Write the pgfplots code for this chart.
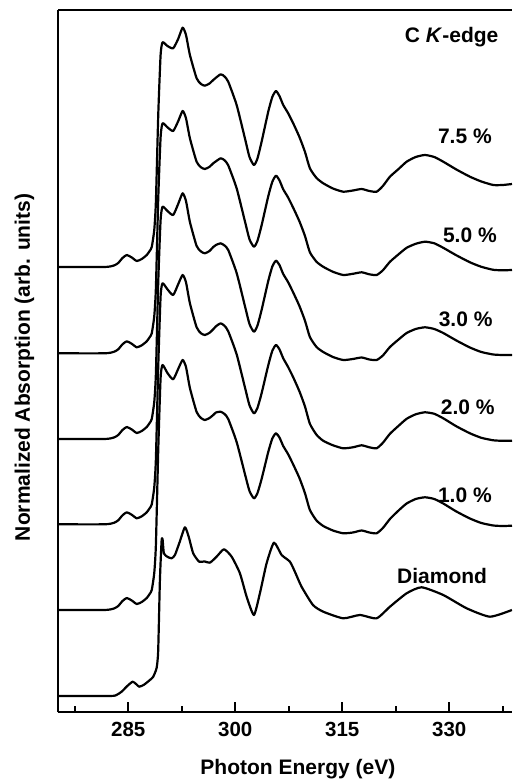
\documentclass[border=0pt]{standalone}
\usepackage{fontspec}
\setmainfont{Liberation Sans}
\usepackage{pgfplots}
\pgfplotsset{compat=1.18}
\usepackage{pgfplotstable}

\tikzset{
  spec/.style={black, line width=2.2pt, smooth, tension=0.35, line join=round, mark=none},
  lab/.style={font=\fontsize{21}{25}\selectfont\bfseries},
}

% 7.5 %
\pgfplotstableread{
x y
275.2 445.3
281.7 445.3
283.0 446.8
283.6 449.3
284.2 454.3
284.8 457.3
285.5 454.8
286.2 451.3
286.9 453.3
287.6 457.3
288.0 461.3
288.3 465.3
288.65 482.3
288.88 510.3
289.21 597.3
289.54 657.3
289.82 670.0
290.5 666.3
291.3 664.0
292.0 673.3
292.63 684.6
293.1 677.3
293.65 657.3
294.59 634.0
295.2 628.3
295.75 626.6
296.4 628.8
296.92 632.3
297.95 638.0
298.5 635.8
299.02 630.6
300.2 607.3
301.36 574.0
302.0 555.3
302.62 547.3
303.1 553.3
303.7 570.6
304.63 600.6
305.2 615.3
305.71 621.3
306.2 616.3
306.73 607.3
307.4 599.3
308.13 589.0
309.0 575.3
309.77 560.6
310.47 544.0
311.4 534.3
312.34 529.0
313.7 523.8
315.14 520.6
316.5 521.8
317.72 523.3
318.8 521.3
319.82 520.6
320.7 526.3
321.69 535.6
322.9 543.3
324.03 550.6
325.3 555.3
326.6 557.3
327.9 555.3
329.16 550.6
331.0 542.8
332.9 535.6
334.5 530.8
336.17 527.3
337.5 527.3
338.8 528.3
}\tabA

% 5.0 %
\pgfplotstableread{
x y
275.2 359
281.7 359
283.0 360.5
283.6 363
284.2 368
284.8 371
285.5 368.5
286.2 365
286.9 367
287.6 371
288.0 375
288.3 379
288.65 396
288.88 424
289.21 514
289.54 575
289.82 589
290.5 585
291.3 581.3
292.0 591
292.63 601.3
293.1 594
293.65 574
294.59 550.5
295.2 545
295.75 543.3
296.4 545.5
296.92 549
297.95 554
298.5 552
299.02 547
300.2 524
301.36 491
302.0 473
302.62 465.6
303.1 471
303.7 487
304.63 516
305.2 530.5
305.71 536.6
306.2 532
306.73 523
307.4 515
308.13 504.5
309.0 491
309.77 476.5
310.47 460
311.4 450.5
312.34 445.5
313.7 440.5
315.14 437.3
316.5 438.5
317.72 440
318.8 438
319.82 437.3
320.7 442
321.69 450.5
322.9 458
324.03 464.5
325.3 468.5
326.6 470.6
327.9 469
329.16 464.5
331.0 457
332.9 450
334.5 445.5
336.17 442.5
337.5 442
338.8 442.3
}\tabB

% 3.0 %
\pgfplotstableread{
x y
275.2 273.3
281.7 273.3
283.0 274.8
283.6 277.3
284.2 282.3
284.8 285.3
285.5 282.8
286.2 279.3
286.9 281.3
287.6 285.3
288.0 289.3
288.3 293.3
288.65 310.3
288.88 338.3
289.21 430.3
289.54 492.3
289.82 505.6
290.5 501.3
291.3 497.3
292.0 508.3
292.63 519.0
293.1 511.3
293.65 490.3
294.59 466.3
295.2 460.8
295.75 459.0
296.4 461.3
296.92 465.3
297.3 467.3
297.95 469.0
298.5 466.8
299.02 462.3
300.2 439.3
301.36 406.3
302.0 388.3
302.62 380.6
303.1 386.3
303.7 402.3
304.63 431.3
305.2 445.8
305.71 451.6
306.2 447.3
306.73 438.3
307.4 430.3
308.13 419.8
309.0 406.3
309.77 391.8
310.47 375.3
311.4 365.3
312.34 360.3
313.7 355.3
315.14 352.3
316.5 353.3
317.72 354.8
318.8 352.8
319.82 352.3
320.7 356.8
321.69 365.3
322.9 372.8
324.03 379.3
325.3 383.3
326.6 385.0
327.9 383.3
329.16 379.3
331.0 371.8
332.9 364.8
334.5 360.3
336.17 357.8
337.5 357.3
338.8 357.3
}\tabC

% 2.0 %
\pgfplotstableread{
x y
275.2 188
281.7 188
283.0 189.5
283.6 192
284.2 197
284.8 200
285.5 197.5
286.2 194
286.9 196
287.6 200
288.0 204
288.3 208
288.65 225
288.88 253
289.21 346
289.54 416
289.82 429
290.5 423
291.3 417.3
292.0 428
292.63 437.3
293.1 430
293.65 409
294.59 385
295.2 379
295.75 377.3
296.4 379.5
296.92 383
297.3 386
297.95 389
298.5 386.5
299.02 381
300.2 358
301.36 325
302.0 307
302.62 299
303.1 304
303.7 319
304.63 347
305.2 361.5
305.71 367.3
306.2 363
306.73 354
307.4 345.5
308.13 335
309.0 321
309.77 306
310.47 288.5
311.4 277.5
312.34 271.5
313.7 267
315.14 264
316.5 265
317.72 267
318.8 265
319.82 264
320.7 269.5
321.69 278.5
322.9 286.5
324.03 293.5
325.3 298
326.6 300
327.9 298.5
329.16 294
331.0 286
332.9 279
334.5 274.5
336.17 272
337.5 271.5
338.8 271.6
}\tabD

% 1.0 %
\pgfplotstableread{
x y
275.2 102.3
281.7 102.3
283.0 103.8
283.6 106.3
284.2 111.3
284.8 114.3
285.5 111.8
286.2 108.3
286.9 110.3
287.6 114.3
288.0 118.3
288.3 122.3
288.65 139.3
288.88 167.3
289.21 262.3
289.54 334.3
289.82 347.3
290.5 339.3
291.3 333.0
292.0 343.3
292.63 352.3
293.1 345.3
293.65 324.3
294.59 300.3
295.2 294.3
295.75 292.3
296.4 294.3
296.92 297.3
297.3 299.8
297.95 300.6
298.5 298.3
299.02 293.3
300.2 270.3
301.36 238.3
302.0 221.3
302.62 214.0
303.1 218.8
303.7 233.3
304.63 260.3
305.2 273.8
305.71 279.0
306.2 274.8
306.73 266.3
307.4 258.3
308.13 247.8
309.0 234.3
309.77 219.3
310.47 202.3
311.4 191.8
312.34 186.3
313.7 181.8
315.14 179.0
316.5 179.8
317.72 181.8
318.8 179.8
319.82 179.0
320.7 184.3
321.69 193.3
322.9 201.8
324.03 208.8
325.3 213.3
326.6 215.0
327.9 213.3
329.16 208.8
331.0 200.8
332.9 193.8
334.5 189.3
336.17 186.8
337.5 186.3
338.8 186.6
}\tabE

% Diamond
\pgfplotstableread{
x y
275.2 16.3
282.5 16.3
283.4 17.5
284.07 20.6
284.9 26.5
285.62 30.6
286.1 28.3
286.54 25.6
287.2 27.5
288.04 32.3
288.5 35.5
288.98 44.3
289.2 61.3
289.44 131.3
289.68 171.3
289.82 173.0
290.0 159.0
290.5 155.5
291.08 154.0
291.55 157.3
292.2 170
292.95 185.0
293.5 175
294.11 159.0
294.95 150.6
295.7 150.9
296.45 149.6
297.39 155.6
298.42 163.0
299.5 155.6
300.66 139.0
301.6 115.6
302.62 97.3
303.46 119.0
304.40 149.0
305.43 169.6
306.51 157.3
307.67 150.6
308.4 140
309.3 125.6
310.9 107.3
312.34 100.6
315.14 94.0
317.48 97.3
319.82 94.0
321.69 105.6
324.03 119.0
326.13 125.0
329.16 117.3
332.44 104.0
335.71 95.6
338.79 102.3
}\tabF

\begin{document}
\begin{tikzpicture}
\begin{axis}[
  scale only axis,
  width=453.7pt, height=702.3pt,
  xmin=275.2, xmax=338.8, ymin=0, ymax=702.3,
  axis x line=box, axis y line=left,
  axis line style={-, line width=2pt},
  xtick={285,300,315,330},
  minor xtick={277.5,292.5,307.5,322.5,337.5},
  xtick pos=left, tick align=inside,
  major tick length=10pt, minor tick length=6pt,
  tick style={black, line width=1.8pt},
  ytick=\empty,
  /pgf/number format/assume math mode=true,
  xticklabel style={font=\fontsize{20.5}{24}\selectfont\bfseries, yshift=-6pt},
  xlabel={Photon Energy (eV)},
  ylabel={Normalized Absorption (arb. units)},
  label style={font=\fontsize{21}{25}\selectfont\bfseries},
  xlabel style={at={(axis description cs:0.528,-0.0879)}, anchor=base},
  ylabel style={at={(axis description cs:-0.0624,0.491)}, anchor=base},
]
\addplot[spec] table {\tabA};
\addplot[spec] table {\tabB};
\addplot[spec] table {\tabC};
\addplot[spec] table {\tabD};
\addplot[spec] table {\tabE};
\addplot[spec] table {\tabF};
\node[lab] at (axis cs:330.34,675) {C \textit{K}-edge};
\node[lab] at (axis cs:332.2,575.6) {7.5 \%};
\node[lab] at (axis cs:332.9,477.3) {5.0 \%};
\node[lab] at (axis cs:332.3,393) {3.0 \%};
\node[lab] at (axis cs:332.6,305) {2.0 \%};
\node[lab] at (axis cs:332.2,217.3) {1.0 \%};
\node[lab] at (axis cs:329,136.3) {Diamond};
\end{axis}
\pgfresetboundingbox
\path (-58.3pt,-66.7pt) rectangle (453.7pt,712.3pt);
\end{tikzpicture}
\end{document}
